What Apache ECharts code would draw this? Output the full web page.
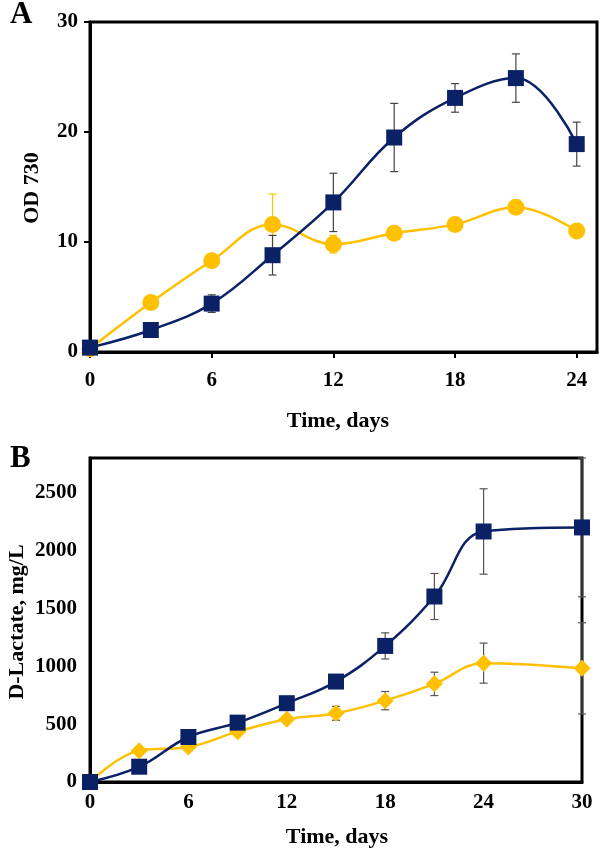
<!DOCTYPE html>
<html>
<head>
<meta charset="utf-8">
<script src="https://cdn.jsdelivr.net/npm/echarts@6/dist/echarts.min.js"></script>
<style>html,body{margin:0;padding:0;background:#fff}#c{width:600px;height:850px}</style>
</head>
<body>
<div id="c"></div>
<script>
// ---- Panel A data: OD 730 ----
const daysA = [0, 3, 6, 9, 12, 15, 18, 21, 24];
const odBlue = [0.4, 2.0, 4.4, 8.8, 13.6, 19.5, 23.1, 24.9, 18.9];
const odBlueErr = [0, 0, 0.8, 1.8, 2.65, 3.1, 1.3, 2.2, 2.0];
const odYellow = [0.3, 4.5, 8.3, 11.6, 9.8, 10.8, 11.6, 13.15, 11.0];
const odYellowErr = [0, 0, 0, 2.75, 0.8, 0, 0, 0, 0];
const xTicksA = [0, 6, 12, 18, 24];
const yTicksA = [0, 10, 20, 30];

// ---- Panel B data: D-Lactate, mg/L ----
const daysB = [0, 3, 6, 9, 12, 15, 18, 21, 24, 30];
const lacBlue = [0, 132, 389, 513, 681, 868, 1176, 1603, 2165, 2200];
const lacBlueErr = [0, 0, 0, 0, 0, 0, 113, 199, 369, 600];
const lacYellow = [0, 271, 302, 435, 542, 594, 703, 848, 1027, 982];
const lacYellowErr = [0, 0, 0, 0, 20, 60, 79, 101, 173, 394];
const xTicksB = [0, 6, 12, 18, 24, 30];
const yTicksB = [0, 500, 1000, 1500, 2000, 2500];

const NAVY = '#0B2166';
const GOLD = '#FFC000';
const FONT = '"Liberation Serif", "Times New Roman", serif';

function pairs(xs, ys) { return xs.map((x, i) => [x, ys[i]]); }

function errSeries(ai, xs, ys, es, color) {
  return {
    type: 'custom', xAxisIndex: ai, yAxisIndex: ai, clip: false, z: 1,
    data: xs.map((x, i) => [x, ys[i], es[i]]),
    encode: { x: 0, y: 1 },
    renderItem: function (params, api) {
      const x = api.value(0), y = api.value(1), e = api.value(2);
      if (!e) return { type: 'group', children: [] };
      const t = api.coord([x, y + e]), b = api.coord([x, y - e]);
      const w = 4;
      const st = { stroke: color, lineWidth: 1.2 };
      return { type: 'group', children: [
        { type: 'line', shape: { x1: t[0], y1: t[1], x2: b[0], y2: b[1] }, style: st },
        { type: 'line', shape: { x1: t[0] - w, y1: t[1], x2: t[0] + w, y2: t[1] }, style: st },
        { type: 'line', shape: { x1: b[0] - w, y1: b[1], x2: b[0] + w, y2: b[1] }, style: st }
      ] };
    }
  };
}

const labelStyle = { color: '#000', fontFamily: FONT, fontWeight: 'bold', fontSize: 21, formatter: v => String(v) };

const chart = echarts.init(document.getElementById('c'), null, { renderer: 'canvas' });
chart.setOption({
  animation: false,
  backgroundColor: '#fff',
  grid: [
    { left: 90, top: 22, width: 507, height: 330, show: true, borderColor: '#000', borderWidth: 3, containLabel: false },
    { left: 90, top: 458, width: 492, height: 324, show: true, borderColor: '#000', borderWidth: 3, containLabel: false }
  ],
  xAxis: [
    { type: 'value', gridIndex: 0, min: 0, max: 25, interval: 6,
      axisLine: { lineStyle: { color: '#000', width: 3 } },
      axisTick: { show: true, length: 6, lineStyle: { color: '#000', width: 2 }, customValues: xTicksA },
      axisLabel: Object.assign({ margin: 18, customValues: xTicksA }, labelStyle),
      splitLine: { show: false } },
    { type: 'value', gridIndex: 1, min: 0, max: 30, interval: 6,
      axisLine: { lineStyle: { color: '#000', width: 3 } },
      axisTick: { show: false },
      axisLabel: Object.assign({ margin: 10, customValues: xTicksB }, labelStyle),
      splitLine: { show: false } }
  ],
  yAxis: [
    { type: 'value', gridIndex: 0, min: 0, max: 30, interval: 10,
      axisLine: { lineStyle: { color: '#000', width: 3 } },
      axisTick: { show: true, length: 6, lineStyle: { color: '#000', width: 2 }, customValues: yTicksA },
      axisLabel: Object.assign({ margin: 12, customValues: yTicksA }, labelStyle),
      splitLine: { show: false } },
    { type: 'value', gridIndex: 1, min: 0, max: 2800, interval: 500,
      axisLine: { lineStyle: { color: '#000', width: 3 } },
      axisTick: { show: false },
      axisLabel: Object.assign({ margin: 13, customValues: yTicksB }, labelStyle),
      splitLine: { show: false } }
  ],
  series: [
    errSeries(0, daysA, odYellow, odYellowErr, GOLD),
    errSeries(0, daysA, odBlue, odBlueErr, '#444'),
    { type: 'line', xAxisIndex: 0, yAxisIndex: 0, data: pairs(daysA, odYellow), smooth: 0.4, z: 2,
      symbol: 'circle', symbolSize: 17, clip: false,
      lineStyle: { color: GOLD, width: 2.5 }, itemStyle: { color: GOLD } },
    { type: 'line', xAxisIndex: 0, yAxisIndex: 0, data: pairs(daysA, odBlue), smooth: 0.4, z: 3,
      symbol: 'rect', symbolSize: 16, clip: false,
      lineStyle: { color: NAVY, width: 2.5 }, itemStyle: { color: NAVY } },

    errSeries(1, daysB, lacYellow, lacYellowErr, '#555'),
    errSeries(1, daysB, lacBlue, lacBlueErr, '#555'),
    { type: 'line', xAxisIndex: 1, yAxisIndex: 1, data: pairs(daysB, lacYellow), smooth: 0.4, z: 2,
      symbol: 'diamond', symbolSize: [17, 17], clip: false,
      lineStyle: { color: GOLD, width: 2.5 }, itemStyle: { color: GOLD } },
    { type: 'line', xAxisIndex: 1, yAxisIndex: 1, data: pairs(daysB, lacBlue), smooth: 0.4, z: 3,
      symbol: 'rect', symbolSize: 16, clip: false,
      lineStyle: { color: NAVY, width: 2.5 }, itemStyle: { color: NAVY } }
  ],
  graphic: [
    { type: 'text', x: 10, y: 15, style: { text: 'A', fill: '#000', font: 'bold 31px ' + FONT, textVerticalAlign: 'middle' } },
    { type: 'text', x: 10, y: 459, style: { text: 'B', fill: '#000', font: 'bold 31px ' + FONT, textVerticalAlign: 'middle' } },
    { type: 'text', x: 32, y: 188, rotation: Math.PI / 2, style: { text: 'OD 730', fill: '#000', font: 'bold 22px ' + FONT, textAlign: 'center', textVerticalAlign: 'middle' } },
    { type: 'text', x: 17, y: 622, rotation: Math.PI / 2, style: { text: 'D-Lactate, mg/L', fill: '#000', font: 'bold 22px ' + FONT, textAlign: 'center', textVerticalAlign: 'middle' } },
    { type: 'text', x: 338, y: 421, style: { text: 'Time, days', fill: '#000', font: 'bold 22px ' + FONT, textAlign: 'center', textVerticalAlign: 'middle' } },
    { type: 'text', x: 337, y: 837, style: { text: 'Time, days', fill: '#000', font: 'bold 22px ' + FONT, textAlign: 'center', textVerticalAlign: 'middle' } }
  ]
});
</script>
</body>
</html>
